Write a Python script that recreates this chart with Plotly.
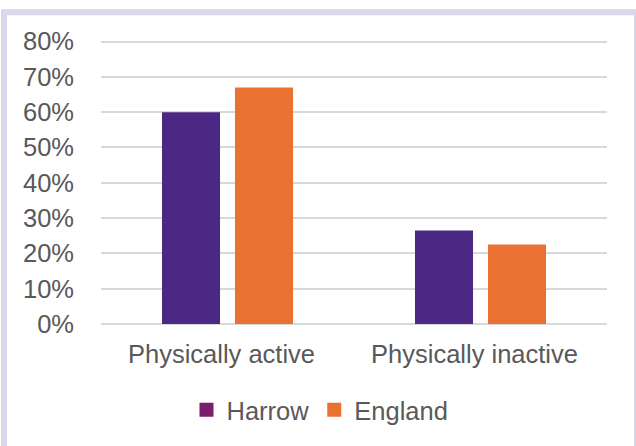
import plotly.graph_objects as go

# Share of adults by physical activity level
categories = ["Physically active", "Physically inactive"]
harrow = [0.60, 0.265]
england = [0.67, 0.225]
y_ticks = [0, 0.1, 0.2, 0.3, 0.4, 0.5, 0.6, 0.7, 0.8]
y_tick_labels = ["0%", "10%", "20%", "30%", "40%", "50%", "60%", "70%", "80%"]

HARROW_BAR = "#4B2884"
HARROW_KEY = "#7A1F6E"
ENGLAND = "#E97132"
TEXT = "#595959"
GRID = "#D9D9D9"
FONT = "Liberation Sans, Arial, sans-serif"

W, H = 636, 446
Y_MAX = 0.81                      # a little headroom so the 80% gridline is drawn
ZERO_PX, TOP_GRID_PX = 327, 42    # pixel rows of the 0% and 80% gridlines
px_per_unit = (ZERO_PX - TOP_GRID_PX) / 0.8
L, R, B = 101, 29, H - ZERO_PX
T = ZERO_PX - px_per_unit * Y_MAX
pw, ph = W - L - R, H - T - B


def px_x(v):
    return (v - L) / pw


def px_y(v):
    return (H - B - v) / ph


fig = go.Figure()
fig.add_trace(go.Bar(x=categories, y=harrow, name="Harrow",
                     marker=dict(color=HARROW_BAR, line=dict(width=0)),
                     showlegend=False))
fig.add_trace(go.Bar(x=categories, y=england, name="England",
                     marker=dict(color=ENGLAND, line=dict(width=0)),
                     showlegend=False))

# legend keys
for name, col in [("Harrow", HARROW_KEY), ("England", ENGLAND)]:
    fig.add_trace(go.Scatter(x=[None], y=[None], mode="markers", name=name,
                             marker=dict(symbol="square", size=14, color=col)))

fig.update_layout(
    width=W, height=H,
    margin=dict(l=L, r=R, t=T, b=B, pad=0),
    paper_bgcolor="white", plot_bgcolor="white",
    barmode="group", bargap=0.423, bargroupgap=0.205,
    font=dict(family=FONT, size=25.5, color=TEXT),
    showlegend=True,
    legend=dict(orientation="h", x=px_x(320), xanchor="center",
                y=px_y(414), yanchor="middle",
                font=dict(family=FONT, size=25.5, color=TEXT),
                bgcolor="rgba(0,0,0,0)", itemwidth=30, tracegroupgap=0),
    shapes=[dict(type="rect", xref="paper", yref="paper",
                 x0=px_x(4), x1=px_x(637), y0=px_y(12.5), y1=px_y(470),
                 line=dict(color="#DCD6E8", width=6), layer="above")],
)
fig.update_xaxes(showgrid=False, showline=False, zeroline=False, ticks="",
                 ticklabelstandoff=12, ticklabelshift=-6,
                 tickfont=dict(family=FONT, size=25.5, color=TEXT))
fig.update_yaxes(range=[0, Y_MAX], tickvals=y_ticks, ticktext=y_tick_labels,
                 showgrid=True, gridcolor=GRID, gridwidth=2,
                 zeroline=True, zerolinecolor=GRID, zerolinewidth=2,
                 showline=False, ticks="", ticklabelstandoff=26,
                 tickfont=dict(family=FONT, size=25.5, color=TEXT))

fig.write_html("out.html")
